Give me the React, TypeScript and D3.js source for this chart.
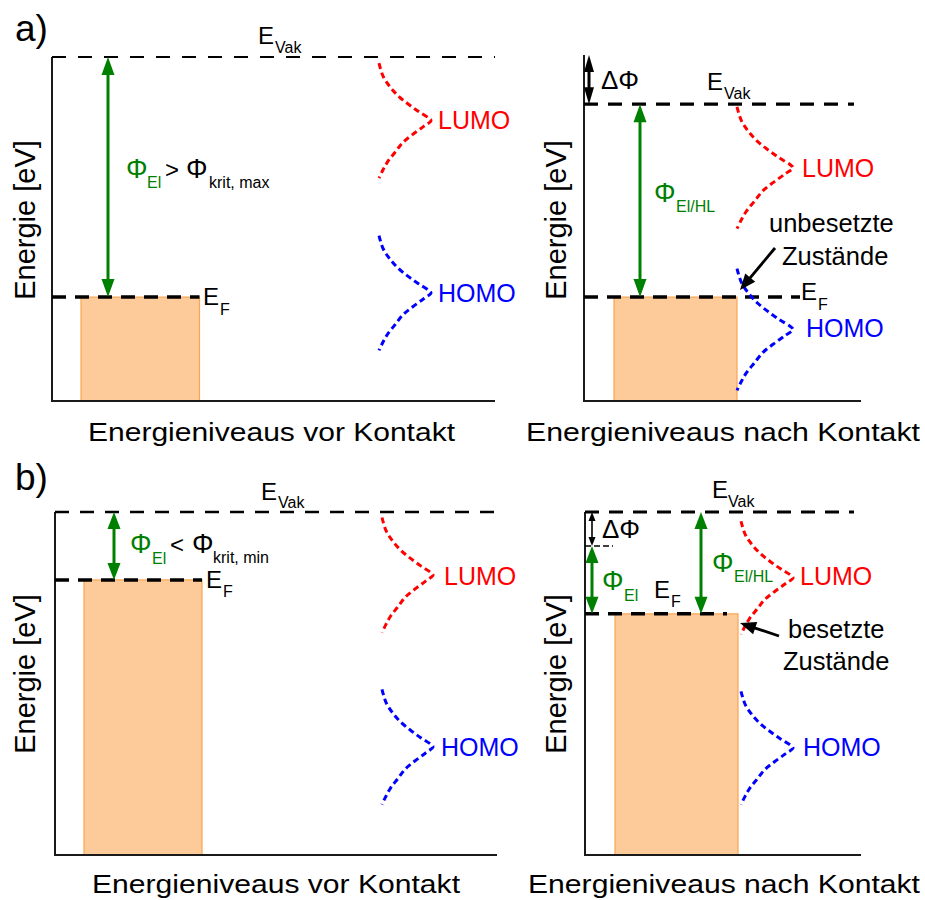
import React from "react";
import * as d3 from "d3";

const FONT = "'Liberation Sans', Arial, Helvetica, sans-serif";

// ---------- data ----------
const ROW_LABELS = ["a)", "b)"];
const PANEL_TITLES = [
  "Energieniveaus vor Kontakt",
  "Energieniveaus nach Kontakt",
  "Energieniveaus vor Kontakt",
  "Energieniveaus nach Kontakt",
];
const Y_TITLE = "Energie [eV]";
// energies in relative units (0 = bottom axis, 100 = vacuum level before contact)
const VACUUM_LEVEL = [100, 86.3, 100, 100];
const DIPOLE_LEVEL = [NaN, NaN, NaN, 90.1];
const FERMI_LEVEL = [30.2, 30.2, 80.2, 70.3];
const LUMO_CENTER = [81.5, 67.8, 81.6, 80.8];
const HOMO_CENTER = [31.4, 20.8, 31.5, 31.2];
const DOS_HALF_SPAN = [16.7, 17.7, 16.8, 16.5];
// Gaussian-like density of states profile
const DOS_OFFSET = [-1, -0.77, -0.59, -0.43, -0.29, -0.16, -0.05, 0, 0.1, 0.24, 0.38, 0.55, 0.71, 0.85, 1];
const DOS_DENSITY = [0, 0.08, 0.21, 0.37, 0.56, 0.76, 0.95, 1, 0.86, 0.65, 0.46, 0.31, 0.17, 0.08, 0];

// ---------- layout ----------
const rowScales = [
  d3.scaleLinear().domain([0, 100]).range([401, 57]),
  d3.scaleLinear().domain([0, 100]).range([855, 512]),
];

const PANELS = [
  { row: 0, axisX: 52, axisRight: 495, axisTop: 57, metal: [81, 199.5], fermiEnd: 199.5, vacEnd: 495, vacW: 1.8, vacDash: "14 12", dosX: 379, dosW: 52, titleX: 88, titleLen: 367, yTitleX: 35 },
  { row: 0, axisX: 584, axisRight: 861, axisTop: 55, metal: [614, 737], fermiEnd: 800, vacEnd: 854, vacW: 3.3, vacDash: "14 10", dosX: 737, dosW: 56, titleX: 526, titleLen: 394, yTitleX: 566 },
  { row: 1, axisX: 55, axisRight: 497, axisTop: 512, metal: [84, 202], fermiEnd: 202, vacEnd: 497, vacW: 2.4, vacDash: "14 11", dosX: 382, dosW: 51, titleX: 92, titleLen: 368, yTitleX: 35 },
  { row: 1, axisX: 585, axisRight: 861, axisTop: 512, metal: [615, 738], fermiEnd: 727, vacEnd: 854, vacW: 2.8, vacDash: "14 10", dosX: 741, dosW: 52, titleX: 528, titleLen: 392, yTitleX: 566 },
];
const TITLE_BASE = [441, 893];
const YTITLE_CENTER = [220, 674];

const GREEN = "#008000";
const RED = "#ff0000";
const BLUE = "#0000ff";
const AXIS = "#1a1a1a";
const PHI = 27;

type ArrowProps = {
  x1: number; y1: number; x2: number; y2: number;
  color: string; width: number; head: number; half: number;
  start?: boolean; end?: boolean;
};

function Arrow({ x1, y1, x2, y2, color, width, head, half, start = true, end = true }: ArrowProps) {
  const dx = x2 - x1, dy = y2 - y1;
  const L = Math.hypot(dx, dy);
  const ux = dx / L, uy = dy / L;
  const px = -uy, py = ux;
  const sx = start ? x1 + ux * head * 0.8 : x1;
  const sy = start ? y1 + uy * head * 0.8 : y1;
  const ex = end ? x2 - ux * head * 0.8 : x2;
  const ey = end ? y2 - uy * head * 0.8 : y2;
  const headPts = (tx: number, ty: number, dirx: number, diry: number) => {
    const bx = tx - dirx * head, by = ty - diry * head;
    return `${tx},${ty} ${bx + px * half},${by + py * half} ${bx - px * half},${by - py * half}`;
  };
  return (
    <g>
      <line x1={sx} y1={sy} x2={ex} y2={ey} stroke={color} strokeWidth={width} />
      {start && <polygon points={headPts(x1, y1, -ux, -uy)} fill={color} />}
      {end && <polygon points={headPts(x2, y2, ux, uy)} fill={color} />}
    </g>
  );
}

type TProps = { x: number; y: number; s?: number; c?: string; children: React.ReactNode };
function T({ x, y, s = 24, c = "#000", children }: TProps) {
  return (
    <text x={x} y={y} fontSize={s} fill={c} fontFamily={FONT}>
      {children}
    </text>
  );
}

function DOS({ p, center, color, i }: { p: typeof PANELS[number]; center: number; color: string; i: number }) {
  const y = rowScales[p.row];
  const pts = DOS_OFFSET.map((o, k) => [o, DOS_DENSITY[k]] as [number, number]);
  const line = d3
    .line<[number, number]>()
    .x((d) => p.dosX + d[1] * p.dosW)
    .y((d) => y(center - d[0] * DOS_HALF_SPAN[i]))
    .curve(d3.curveCatmullRom.alpha(0.5));
  return <path d={line(pts) || ""} fill="none" stroke={color} strokeWidth={3} strokeDasharray="6 3.8" />;
}

export default function App() {
  return (
    <svg
      width={925}
      height={900}
      viewBox="0 0 925 900"
      style={{ position: "absolute", left: 0, top: 0, background: "#fff" }}
    >
      <rect x={0} y={0} width={925} height={900} fill="#fff" />
      {PANELS.map((p, i) => {
        const y = rowScales[p.row];
        const yF = y(FERMI_LEVEL[i]);
        const yV = y(VACUUM_LEVEL[i]);
        const yB = y(0);
        return (
          <g key={i}>
            {/* metal */}
            <rect
              x={p.metal[0]}
              y={yF}
              width={p.metal[1] - p.metal[0]}
              height={yB - yF}
              fill="#fdcb9a"
              stroke="#f8a652"
              strokeWidth={1.2}
            />
            {/* axes */}
            <line x1={p.axisX} y1={p.axisTop} x2={p.axisX} y2={yB} stroke={AXIS} strokeWidth={2} />
            <line x1={p.axisX - 1} y1={yB} x2={p.axisRight} y2={yB} stroke={AXIS} strokeWidth={2} />
            {/* vacuum level */}
            <line x1={p.axisX} y1={yV} x2={p.vacEnd} y2={yV} stroke="#000" strokeWidth={p.vacW} strokeDasharray={p.vacDash} />
            {/* Fermi level */}
            <line x1={p.axisX} y1={yF} x2={p.fermiEnd} y2={yF} stroke="#000" strokeWidth={3.5} strokeDasharray="14 9" />
            {/* dipole level */}
            {!isNaN(DIPOLE_LEVEL[i]) && (
              <line x1={p.axisX} y1={y(DIPOLE_LEVEL[i])} x2={p.axisX + 28} y2={y(DIPOLE_LEVEL[i])} stroke="#000" strokeWidth={1.6} strokeDasharray="6 3" />
            )}
            {/* DOS */}
            <DOS p={p} center={LUMO_CENTER[i]} color={RED} i={i} />
            <DOS p={p} center={HOMO_CENTER[i]} color={BLUE} i={i} />
            {/* titles */}
            <text
              x={p.titleX}
              y={TITLE_BASE[p.row]}
              fontSize={25.5}
              fontFamily={FONT}
              textLength={p.titleLen}
              lengthAdjust="spacingAndGlyphs"
            >
              {PANEL_TITLES[i]}
            </text>
            <text
              transform={`translate(${p.yTitleX},${YTITLE_CENTER[p.row]}) rotate(-90)`}
              textAnchor="middle"
              fontSize={29}
              fontFamily={FONT}
            >
              {Y_TITLE}
            </text>
          </g>
        );
      })}

      {/* row labels */}
      <T x={15} y={41} s={37}>{ROW_LABELS[0]}</T>
      <T x={15} y={490} s={37}>{ROW_LABELS[1]}</T>

      {/* ----- panel a left ----- */}
      <Arrow x1={108} y1={rowScales[0](VACUUM_LEVEL[0])} x2={108} y2={rowScales[0](FERMI_LEVEL[0])} color={GREEN} width={3} head={18} half={6.5} />
      <T x={258} y={44}>E</T>
      <T x={275} y={53} s={16}>Vak</T>
      <T x={203} y={305}>E</T>
      <T x={220} y={315} s={16}>F</T>
      <T x={126} y={178} s={PHI} c={GREEN}>Φ</T>
      <T x={147} y={188} s={16} c={GREEN}>El</T>
      <T x={165} y={178}>&gt;</T>
      <T x={186} y={178} s={PHI}>Φ</T>
      <T x={209} y={188} s={16}>krit, max</T>
      <T x={438} y={129} s={25} c={RED}>LUMO</T>
      <T x={438} y={302} s={25} c={BLUE}>HOMO</T>

      {/* ----- panel a right ----- */}
      <Arrow x1={589} y1={55} x2={589} y2={rowScales[0](VACUUM_LEVEL[1])} color="#000" width={3} head={17} half={5} />
      <Arrow x1={640} y1={rowScales[0](VACUUM_LEVEL[1])} x2={640} y2={rowScales[0](FERMI_LEVEL[1])} color={GREEN} width={3} head={18} half={6.5} />
      <T x={601} y={89} s={26}>ΔΦ</T>
      <T x={707} y={90}>E</T>
      <T x={724} y={99} s={16}>Vak</T>
      <T x={654} y={202} s={PHI} c={GREEN}>Φ</T>
      <T x={676} y={212} s={16} c={GREEN}>El/HL</T>
      <T x={801} y={300}>E</T>
      <T x={818} y={310} s={16}>F</T>
      <T x={802} y={177} s={25} c={RED}>LUMO</T>
      <T x={806} y={337} s={25} c={BLUE}>HOMO</T>
      <T x={769} y={232} s={25.5}>unbesetzte</T>
      <T x={782} y={265} s={25.5}>Zustände</T>
      <Arrow x1={775} y1={248} x2={740} y2={290} color="#000" width={2.8} head={16} half={6.5} start={false} />

      {/* ----- panel b left ----- */}
      <Arrow x1={114} y1={rowScales[1](VACUUM_LEVEL[2])} x2={114} y2={rowScales[1](FERMI_LEVEL[2])} color={GREEN} width={3} head={17} half={6.5} />
      <T x={261} y={500}>E</T>
      <T x={278} y={508} s={16}>Vak</T>
      <T x={130} y={553} s={PHI} c={GREEN}>Φ</T>
      <T x={152} y={564} s={16} c={GREEN}>El</T>
      <T x={170} y={553}>&lt;</T>
      <T x={192} y={553} s={PHI}>Φ</T>
      <T x={213} y={563} s={16}>krit, min</T>
      <T x={206} y={588}>E</T>
      <T x={223} y={597} s={16}>F</T>
      <T x={444} y={585} s={25} c={RED}>LUMO</T>
      <T x={441} y={756} s={25} c={BLUE}>HOMO</T>

      {/* ----- panel b right ----- */}
      <Arrow x1={592} y1={rowScales[1](VACUUM_LEVEL[3])} x2={592} y2={rowScales[1](DIPOLE_LEVEL[3])} color="#000" width={1.6} head={9} half={3.5} />
      <Arrow x1={592} y1={rowScales[1](DIPOLE_LEVEL[3])} x2={592} y2={rowScales[1](FERMI_LEVEL[3])} color={GREEN} width={3} head={17} half={6.5} />
      <Arrow x1={701} y1={rowScales[1](VACUUM_LEVEL[3])} x2={701} y2={rowScales[1](FERMI_LEVEL[3])} color={GREEN} width={3} head={17} half={6.5} />
      <T x={602} y={538} s={26}>ΔΦ</T>
      <T x={602} y={590} s={PHI} c={GREEN}>Φ</T>
      <T x={624} y={601} s={16} c={GREEN}>El</T>
      <T x={654} y={598}>E</T>
      <T x={671} y={607} s={16}>F</T>
      <T x={712} y={572} s={PHI} c={GREEN}>Φ</T>
      <T x={734} y={582} s={16} c={GREEN}>El/HL</T>
      <T x={712} y={498}>E</T>
      <T x={728} y={507} s={16}>Vak</T>
      <T x={800} y={585} s={25} c={RED}>LUMO</T>
      <T x={803} y={756} s={25} c={BLUE}>HOMO</T>
      <T x={788} y={638} s={25.5}>besetzte</T>
      <T x={783} y={670} s={25.5}>Zustände</T>
      <Arrow x1={779} y1={636} x2={740} y2={623} color="#000" width={2.8} head={16} half={6.5} start={false} />
    </svg>
  );
}
